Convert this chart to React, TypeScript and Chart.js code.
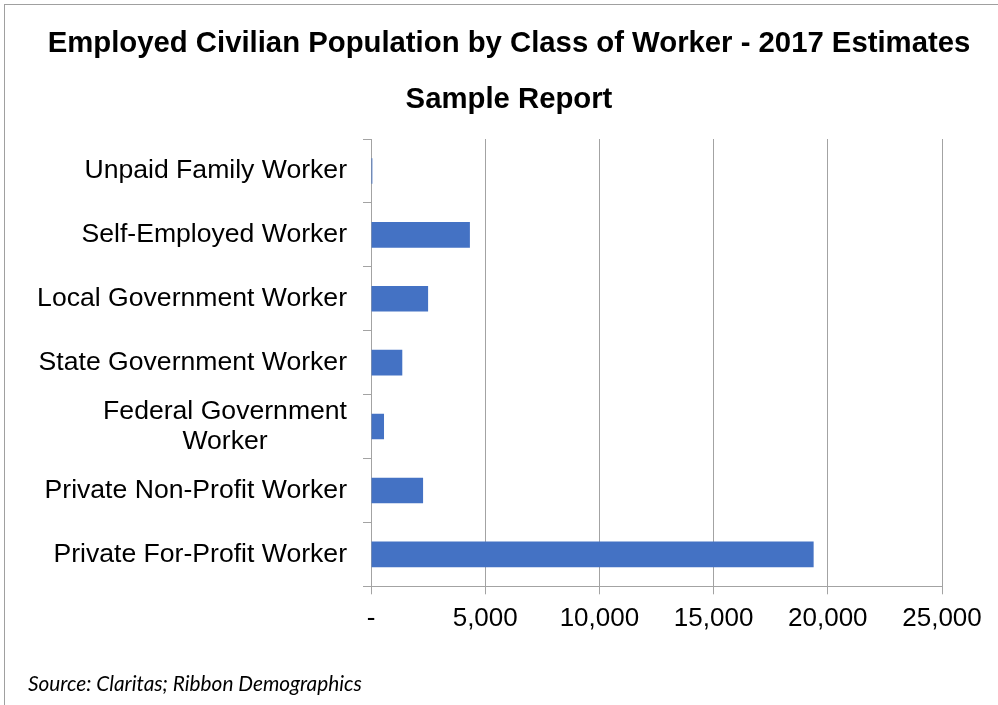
import React, { useEffect, useRef } from "react";
import { Chart, registerables } from "chart.js";

Chart.register(...registerables);

const titleLines = [
  "Employed Civilian Population by Class of Worker - 2017 Estimates",
  "Sample Report",
];
const categories: (string | string[])[] = [
  "Unpaid Family Worker",
  "Self-Employed Worker",
  "Local Government Worker",
  "State Government Worker",
  ["Federal Government", "Worker"],
  "Private Non-Profit Worker",
  "Private For-Profit Worker",
];
const workers = [60, 4330, 2500, 1370, 570, 2280, 19380];
const xTickLabels = ["-", "5,000", "10,000", "15,000", "20,000", "25,000"];
const sourceNote = "Source: Claritas; Ribbon Demographics";

const FONT = "'Liberation Sans', Arial, sans-serif";
const GRID = "#a3a3a3";
const TICK_LEN = 8;
const Y_PAD = 16;

const yLabelPlugin = {
  id: "yLabelPlugin",
  afterDraw(chart: any) {
    const scale = chart.scales.y;
    const ctx = chart.ctx;
    ctx.save();
    ctx.font = `26.6px ${FONT}`;
    ctx.fillStyle = "#000000";
    ctx.textBaseline = "middle";
    ctx.textAlign = "center";
    const lineH = 30;
    const xRight = scale.right - TICK_LEN - Y_PAD;
    categories.forEach((lab, i) => {
      const lines = Array.isArray(lab) ? lab : [lab];
      const maxW = Math.max(...lines.map((l) => ctx.measureText(l).width));
      const yc = scale.getPixelForTick(i);
      lines.forEach((l, j) => {
        const y = yc + (j - (lines.length - 1) / 2) * lineH;
        ctx.fillText(l, xRight - maxW / 2, y);
      });
    });
    ctx.restore();
  },
};

export default function App() {
  const ref = useRef<HTMLCanvasElement>(null);

  useEffect(() => {
    if (!ref.current) return;
    const chart = new Chart(ref.current, {
      type: "bar",
      data: {
        labels: categories.map((c) => (Array.isArray(c) ? c.join(" ") : c)),
        datasets: [
          {
            data: workers,
            backgroundColor: "#4472C4",
            borderWidth: 0,
            barPercentage: 0.4,
            categoryPercentage: 1,
          },
        ],
      },
      options: {
        indexAxis: "y",
        responsive: false,
        animation: false,
        devicePixelRatio: 1,
        layout: { padding: { left: 0, right: 0, top: 0, bottom: 61.5 } },
        plugins: {
          legend: { display: false },
          tooltip: { enabled: false },
          title: {
            display: true,
            text: titleLines,
            color: "#000000",
            font: { family: FONT, size: 29.3, weight: "bold", lineHeight: 56 / 29.3 },
            padding: { top: 15.5, bottom: 11.5 },
          },
        },
        scales: {
          x: {
            min: 0,
            max: 25000,
            ticks: {
              stepSize: 5000,
              color: "#000000",
              font: { family: FONT, size: 26 },
              padding: 9,
              maxRotation: 0,
              callback: (_v: any, i: number) => xTickLabels[i],
            },
            grid: {
              color: GRID,
              lineWidth: 1,
              drawTicks: true,
              tickLength: TICK_LEN,
              tickColor: GRID,
            },
            border: { display: true, color: GRID, width: 1 },
            afterFit: (scale: any) => {
              scale.paddingLeft = 0;
              scale.paddingRight = 56;
            },
          },
          y: {
            ticks: { display: false },
            grid: {
              offset: true,
              drawOnChartArea: false,
              drawTicks: true,
              tickLength: TICK_LEN,
              tickColor: GRID,
              color: GRID,
            },
            border: { display: true, color: GRID, width: 1 },
            afterFit: (scale: any) => {
              scale.width = 351;
            },
          },
        },
      },
      plugins: [yLabelPlugin],
    } as any);
    return () => chart.destroy();
  }, []);

  return (
    <div>
      <div
        style={{
          position: "fixed",
          left: 4,
          top: 4,
          width: 994,
          height: 701,
          boxSizing: "border-box",
          borderTop: "1px solid #a0a0a0",
          borderLeft: "1px solid #a0a0a0",
          background: "#ffffff",
        }}
      />
      <canvas
        ref={ref}
        width={978}
        height={705}
        style={{ position: "fixed", left: 20, top: 0, width: 978, height: 705 }}
      />
      <div
        style={{
          position: "fixed",
          left: 28,
          top: 671,
          fontFamily: "Lato, 'Open Sans', sans-serif",
          fontStyle: "italic",
          fontSize: 20.8,
          lineHeight: "24px",
          color: "#000000",
          whiteSpace: "nowrap",
        }}
      >
        {sourceNote}
      </div>
    </div>
  );
}
